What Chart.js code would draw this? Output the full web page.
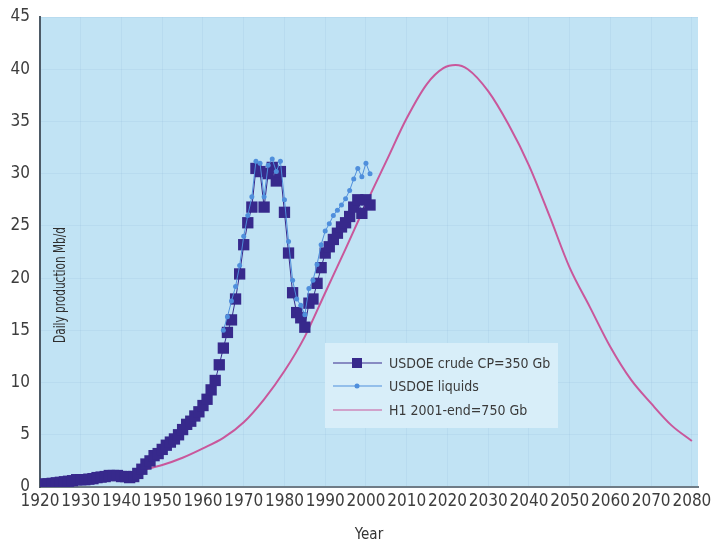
<!DOCTYPE html>
<html>
<head>
<meta charset="utf-8">
<title>Daily production</title>
<script src="https://cdn.jsdelivr.net/npm/chart.js@4.4.1/dist/chart.umd.min.js"></script>
<style>
  html, body { margin: 0; padding: 0; background: #fff; }
  #wrap { width: 712px; height: 547px; }
</style>
</head>
<body>
<div id="wrap"><canvas id="chart" width="712" height="547"></canvas></div>
<script>
// USDOE crude, one value per year starting at crudeFrom (Mb/d)
const crudeFrom = 1920;
const crude = [
  0.2, 0.3, 0.3, 0.35, 0.4, 0.45, 0.5, 0.55, 0.6, 0.7,
  0.7, 0.7, 0.75, 0.8, 0.9, 0.95, 1.0, 1.1, 1.1, 1.1,
  1.0, 1.0, 0.9, 1.0, 1.3, 1.7, 2.2, 2.5, 3.0, 3.2,
  3.6, 4.0, 4.3, 4.6, 5.0, 5.5, 6.0, 6.3, 6.8, 7.2,
  7.8, 8.4, 9.3, 10.2, 11.7, 13.3, 14.8, 16.0, 18.0, 20.4,
  23.2, 25.3, 26.8, 30.5, 30.2, 26.8, 30.0, 30.6, 29.3, 30.2,
  26.3, 22.4, 18.6, 16.7, 16.2, 15.3, 17.6, 18.0, 19.5, 21.0,
  22.4, 23.0, 23.7, 24.3, 24.9, 25.3, 25.9, 26.8, 27.5, 26.2,
  27.5, 27.0
];

// USDOE liquids, yearly from liquidsFrom
const liquidsFrom = 1965;
const liquids = [
  15.0, 16.3, 17.8, 19.2, 21.2,
  24.0, 26.0, 27.8, 31.2, 31.0, 27.8, 30.8, 31.4, 30.2, 31.2,
  27.5, 23.5, 19.8, 18.0, 17.4, 16.5, 19.0, 19.8, 21.3, 23.2,
  24.5, 25.2, 26.0, 26.5, 27.0, 27.6, 28.4, 29.5, 30.5, 29.7,
  31.0, 30.0
];

// Hubbert curve H1 (2001-end = 750 Gb)
const hubbertYears = [
  1945, 1950, 1955, 1960, 1965, 1970, 1975, 1980, 1985, 1990,
  1995, 2000, 2005, 2010, 2015, 2019, 2022, 2025, 2030, 2035, 2040,
  2045, 2050, 2055, 2060, 2065, 2070, 2075, 2080
];
const hubbert = [
  1.6, 2.1, 2.8, 3.7, 4.7, 6.2, 8.4, 11.1, 14.4, 18.6,
  22.8, 27.1, 31.2, 35.3, 38.6, 40.1, 40.4, 40.0, 37.9, 34.7, 30.8,
  26.0, 21.0, 17.2, 13.4, 10.3, 8.0, 5.9, 4.4
];

const yearTicks = [1920, 1930, 1940, 1950, 1960, 1970, 1980, 1990, 2000,
  2010, 2020, 2030, 2040, 2050, 2060, 2070, 2080];

const seriesLabels = ['USDOE crude CP=350 Gb', 'USDOE liquids', 'H1 2001-end=750 Gb'];
const yTitle = 'Daily production Mb/d';
const xTitle = 'Year';

const narrow = "'DejaVu Sans Condensed', 'DejaVu Sans', sans-serif";
const navy = '#37298c';
const sky = '#4f8fdc';
const pink = '#c9579b';

const crudePts = crude.map((v, i) => ({ x: crudeFrom + i, y: v }));
const liquidPts = liquids.map((v, i) => ({ x: liquidsFrom + i, y: v }));
const hubbertPts = hubbert.map((v, i) => ({ x: hubbertYears[i], y: v }));

// light blue plot background
const plotBg = {
  id: 'plotBg',
  beforeDraw(chart) {
    const { ctx, chartArea: a } = chart;
    ctx.save();
    ctx.fillStyle = '#c1e3f4';
    ctx.fillRect(a.left, a.top, a.right - a.left, a.bottom - a.top);
    ctx.restore();
  }
};

// y title sits inside the plot, plus the boxed legend
const overlay = {
  id: 'overlay',
  afterDraw(chart) {
    const { ctx, chartArea: a } = chart;
    ctx.save();
    ctx.fillStyle = '#2e2e2e';
    ctx.font = 'condensed 15px ' + narrow;
    ctx.translate(a.left + 21, 285);
    ctx.rotate(-Math.PI / 2);
    ctx.scale(0.78, 1);
    ctx.textAlign = 'center';
    ctx.textBaseline = 'middle';
    ctx.fillText(yTitle, 0, 0);
    ctx.restore();

    const bx = 325, by = 343, bw = 233, bh = 85;
    ctx.save();
    ctx.fillStyle = '#d8eef9';
    ctx.fillRect(bx, by, bw, bh);
    const rows = [363, 386, 410];
    const ds = chart.data.datasets;
    ctx.font = 'condensed 14px ' + narrow;
    ctx.textBaseline = 'middle';
    [0, 1, 2].forEach((k) => {
      const d = ds.find(s => s.label === seriesLabels[k]);
      const y = rows[k];
      ctx.strokeStyle = d.borderColor;
      ctx.lineWidth = 1;
      ctx.beginPath();
      ctx.moveTo(333, y);
      ctx.lineTo(382, y);
      ctx.stroke();
      ctx.fillStyle = d.borderColor;
      if (k === 0) ctx.fillRect(352, y - 5, 10, 10);
      if (k === 1) { ctx.beginPath(); ctx.arc(357, y, 2.5, 0, Math.PI * 2); ctx.fill(); }
      ctx.fillStyle = '#3a3a3a';
      ctx.fillText(d.label, 389, y + 1);
    });
    ctx.restore();
  }
};

new Chart(document.getElementById('chart'), {
  type: 'line',
  data: {
    datasets: [
      {
        label: seriesLabels[1],
        data: liquidPts,
        borderColor: sky,
        backgroundColor: sky,
        borderWidth: 1,
        pointStyle: 'circle',
        pointRadius: 2.5,
        pointBorderWidth: 0,
        order: 0
      },
      {
        label: seriesLabels[0],
        data: crudePts,
        borderColor: navy,
        backgroundColor: navy,
        borderWidth: 1,
        pointStyle: 'rect',
        pointRadius: 8,
        pointBorderWidth: 0,
        order: 1
      },
      {
        label: seriesLabels[2],
        data: hubbertPts,
        borderColor: pink,
        borderWidth: 2,
        pointRadius: 0,
        cubicInterpolationMode: 'monotone',
        order: 2
      }
    ]
  },
  options: {
    responsive: false,
    animation: false,
    layout: { padding: { top: 17, right: 14, bottom: 0, left: 0 } },
    plugins: {
      legend: { display: false },
      tooltip: { enabled: false }
    },
    scales: {
      x: {
        type: 'linear',
        min: 1920,
        max: 2081.5,
        afterFit(s) { s.height = 60; s.paddingLeft = 0; s.paddingRight = 0; },
        afterBuildTicks(s) { s.ticks = yearTicks.map(v => ({ value: v })); },
        ticks: {
          padding: 4,
          color: '#3d3d3d',
          font: { family: narrow, size: 17, style: 'condensed' },
          maxRotation: 0,
          autoSkip: false,
          callback: v => String(v)
        },
        grid: { color: 'rgba(120,170,205,0.13)', drawTicks: false },
        border: { color: '#6f7c86', width: 2 },
        title: {
          display: true,
          text: xTitle,
          color: '#333',
          font: { family: narrow, size: 15, style: 'condensed' },
          padding: { top: 0, bottom: 3 }
        }
      },
      y: {
        min: 0,
        max: 45,
        afterFit(s) { s.width = 40; s.paddingTop = 0; s.paddingBottom = 0; },
        ticks: {
          stepSize: 5,
          padding: 10,
          color: '#3d3d3d',
          font: { family: narrow, size: 17, style: 'condensed' }
        },
        grid: { color: 'rgba(120,170,205,0.13)', drawTicks: false },
        border: { color: '#4d5a66', width: 2 }
      }
    }
  },
  plugins: [plotBg, overlay]
});
</script>
</body>
</html>
